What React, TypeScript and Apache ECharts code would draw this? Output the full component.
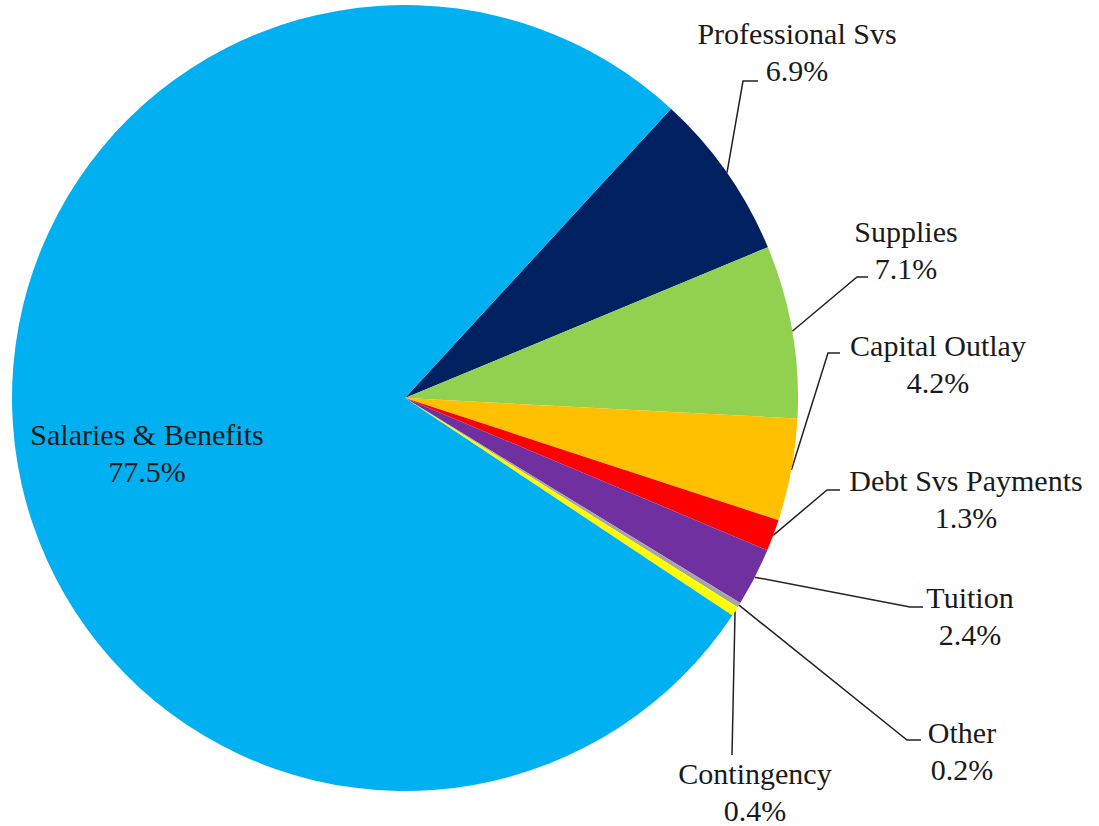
import React, { useEffect, useRef } from "react";
import * as echarts from "echarts";

const categories = [
  "Professional Svs",
  "Supplies",
  "Capital Outlay",
  "Debt Svs Payments",
  "Tuition",
  "Other",
  "Contingency",
  "Salaries & Benefits",
];
const shares = [6.9, 7.1, 4.2, 1.3, 2.4, 0.2, 0.4, 77.5];
const colors = ["#002060", "#92D050", "#FFC000", "#FF0000", "#7030A0", "#A5A5A5", "#FFFF00", "#00B0F0"];

// label block centres and leader-line elbow / end points (layout only)
const labelPos: [number, number][] = [
  [797, 52], [906, 250], [938, 364], [966, 499], [970, 616], [962, 751], [755, 792], [147, 453],
];
const leaderPts: ([number, number][] | null)[] = [
  [[743, 81], [758, 81]],
  [[857, 277], [868, 277]],
  [[828, 353], [840, 353]],
  [[827, 490], [840, 490]],
  [[910, 607], [923, 607]],
  [[907, 740], [921, 740]],
  [[732, 755], [732, 755]],
  null,
];

const FONT = "Liberation Serif";

export default function App() {
  const ref = useRef<HTMLDivElement>(null);
  useEffect(() => {
    if (!ref.current) return;
    const chart = echarts.init(ref.current, null, { renderer: "svg" });
    const labelBase = {
      show: true,
      color: "#1a1a1a",
      fontFamily: FONT,
      fontSize: 30,
      lineHeight: 37,
      align: "center",
      formatter: (p: any) => `${p.name}\n${Number(p.value).toFixed(1)}%`,
    };
    const data = categories.map((name, i) => {
      const inside = leaderPts[i] === null;
      return {
        name,
        value: shares[i],
        itemStyle: { color: colors[i] },
        label: { ...labelBase, position: inside ? "inside" : "outside" },
        labelLine: inside ? { show: false } : undefined,
      };
    });
    chart.setOption({
      animation: false,
      backgroundColor: "#ffffff",
      textStyle: { fontFamily: FONT },
      series: [
        {
          type: "pie",
          center: [405, 398],
          radius: 393,
          startAngle: 47.4,
          clockwise: true,
          avoidLabelOverlap: false,
          data,
          itemStyle: { borderWidth: 0 },
          label: { ...labelBase, position: "outside" },
          labelLine: {
            show: true,
            lineStyle: { color: "#222222", width: 1.5 },
          },
          labelLayout: (params: any) => {
            const i = params.dataIndex;
            const pos = labelPos[i];
            const res: any = { x: pos[0], y: pos[1], align: "center", verticalAlign: "middle" };
            const pts = leaderPts[i];
            if (pts && params.labelLinePoints) {
              const start = params.labelLinePoints[0];
              res.labelLinePoints = [start, pts[0], pts[1]];
            }
            return res;
          },
        },
      ],
    });
    return () => chart.dispose();
  }, []);
  return (
    <div
      ref={ref}
      style={{ position: "fixed", left: 0, top: 0, width: 1099, height: 826, background: "#fff" }}
    />
  );
}
